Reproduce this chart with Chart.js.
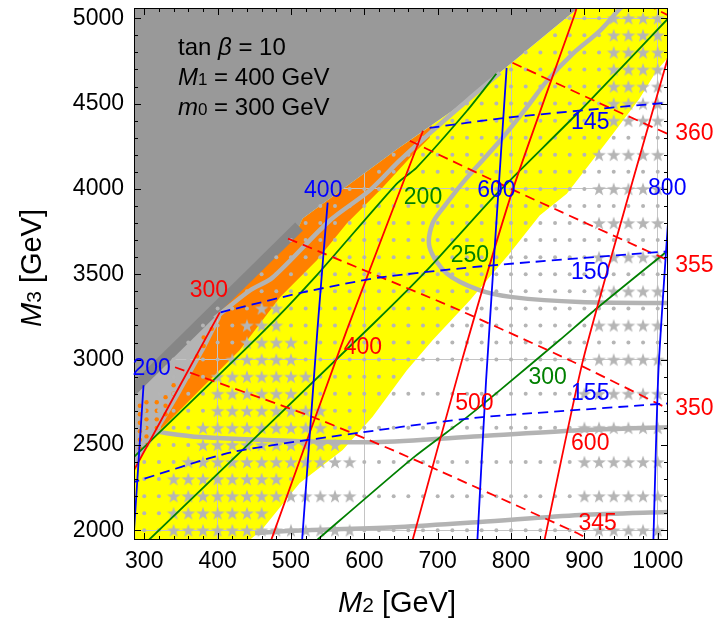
<!DOCTYPE html>
<html>
<head>
<meta charset="utf-8">
<script src="https://cdn.jsdelivr.net/npm/chart.js@4.4.1/dist/chart.umd.min.js"></script>
<style>
  html, body { margin: 0; padding: 0; background: #fff; }
  #wrap { width: 720px; height: 619px; }
</style>
</head>
<body>
<div id="wrap"><canvas id="scan"></canvas></div>
<script>
// axis ticks
const m2Ticks = [300, 400, 500, 600, 700, 800, 900, 1000];
const m3Ticks = [2000, 2500, 3000, 3500, 4000, 4500, 5000];

// scan grid (M2, M3 in GeV)
const gridM2 = [300, 320, 340, 360, 380, 400, 420, 440, 460, 480, 500, 520, 540, 560, 580, 600, 620, 640,
  660, 680, 700, 720, 740, 760, 780, 800, 820, 840, 860, 880, 900, 920, 940, 960, 980, 1000];
const gridM3 = [2000, 2100, 2200, 2300, 2400, 2500, 2600, 2700, 2800, 2900, 3000, 3100, 3200, 3300, 3400,
  3500, 3600, 3700, 3800, 3900, 4000, 4100, 4200, 4300, 4400, 4500, 4600, 4700, 4800, 4900, 5000];

// rows of star points: [M3, M2 from, M2 to]
const starRows = [
  [3300, 460, 480], [3200, 440, 480], [3100, 440, 500], [3000, 420, 500], [2900, 400, 520],
  [2800, 400, 500], [2700, 400, 540], [2600, 380, 540], [2500, 380, 560], [2400, 360, 580],
  [2300, 340, 480], [2200, 340, 580], [2100, 340, 460], [2000, 340, 580],
  [2000, 920, 1000], [2200, 900, 1000], [2400, 900, 1000], [2600, 900, 1000], [2800, 900, 1000],
  [3000, 920, 1000], [3200, 920, 1000], [3400, 920, 1000], [3600, 920, 1000], [3800, 920, 1000],
  [4000, 920, 1000], [4200, 920, 1000], [4400, 940, 1000], [4500, 940, 1000], [4600, 940, 1000],
  [4700, 940, 1000], [4800, 940, 1000], [4900, 940, 1000], [5000, 940, 1000]
];

const orangeDots = [[294, 2480], [294, 2530], [294, 2580], [294, 2630], [294, 2680], [294, 2730],
  [303, 2500], [303, 2550], [303, 2600], [303, 2650], [303, 2700], [303, 2750],
  [317, 2600], [317, 2650], [317, 2700], [317, 2750], [329, 2680], [329, 2730], [329, 2780],
  [340, 2800], [340, 2850], [372, 3020], [381, 3080], [381, 3130], [392, 3180]];

// regions
const excludedRegion = [[280, 5090], [900, 5090], [784.5, 4680], [720, 4458], [648, 4242], [516, 3826], [511, 3780], [280, 2803]];
const darkBand = [[280, 2803], [511, 3780]];
const orangeRegion = [[280, 2803], [511, 3780], [516, 3826], [648, 4242], [692, 4372],
  [689, 4300], [671, 4224], [625, 4008], [576, 3798], [535, 3581], [485, 3365], [430, 3055],
  [375.5, 2821], [335, 2645], [294, 2470], [280, 2420]];
const grayPatch = [[280, 2803], [411, 3355], [404, 3240], [382, 3054], [348, 2791], [328, 2645], [307, 2499], [280, 2330]];
const yellowRegion = [[280, 1930], [440, 1930], [460, 2002], [512, 2277], [570.5, 2470], [611, 2663],
  [658, 2937], [693, 3113], [744, 3347], [798, 3622], [839, 3844], [876, 3972], [939, 4323],
  [975, 4528], [998.5, 4692], [1020, 4800], [1020, 5090], [900, 5090], [784.5, 4680], [720, 4458],
  [648, 4242], [516, 3826], [280, 2803]];

// thick gray contours
const grayLines = [
  [[396, 3242], [444, 3405], [475, 3481], [553, 3815], [607, 3990], [648, 4166], [693, 4341], [740, 4517], [785, 4680]],
  [[955, 5080], [948, 5054], [921, 4926], [884, 4791], [849, 4633], [821, 4475], [785, 4282], [740, 4066], [710, 3903],
    [693, 3798], [689, 3658], [712, 3506], [757, 3407], [802, 3366], [894, 3337], [1020, 3331]],
  [[310, 2581], [376, 2546], [512, 2522], [613, 2516], [757, 2551], [894, 2586], [1020, 2605]],
  [[451, 1984], [512, 1998], [648, 2019], [757, 2048], [894, 2089], [1020, 2108]]
];

// blue solid / dashed
const blueSolid = [
  [[285, 1930], [299, 2850]],
  [[515, 1930], [536, 3171], [550, 3920]],
  [[754, 1930], [766, 2879], [782, 3932], [794, 4709]],
  [[994, 1930], [1001, 2938], [1016, 3930]]
];
const blueDashed = [
  [[689, 4358], [794, 4417], [921, 4470], [1020, 4508]],
  [[404, 3277], [516, 3394], [621, 3481], [771, 3551], [1020, 3636]],
  [[280, 2275], [420, 2458], [648, 2604], [761, 2663], [1020, 2745]]
];
// red solid / dashed
const redSolid = [
  [[280, 2305], [403, 3277]],
  [[472, 1930], [576, 3171], [680, 4341]],
  [[665, 1930], [733, 2994], [802, 3990], [887, 5025], [890, 5070]],
  [[845, 1930], [898, 2994], [966, 4049], [1016, 4800]]
];
const redDashed = [
  [[342, 2955], [530, 2663], [648, 2452], [890, 1984], [912, 1930]],
  [[496, 3709], [689, 3364], [730, 3289], [880, 2996], [1020, 2700]],
  [[662, 4282], [808, 3984], [1020, 3570]],
  [[802, 4739], [934, 4476], [1020, 4310]],
  [[985, 5080], [1020, 5005]]
];
// green solid
const greenSolid = [
  [[280, 2405], [457, 3142], [535, 3494], [644, 4030], [671, 4124], [740, 4458], [780, 4675]],
  [[303, 1930], [613, 3213], [689, 3540], [778, 3961], [894, 4458], [1020, 5025]],
  [[532, 1930], [666, 2423], [740, 2663], [785, 2821], [866, 3113], [917, 3301], [1020, 3660]]
];

// contour labels: [text, M2, M3]
const blueLabels = [['200', 310, 2949], ['400', 544, 3990], ['600', 780, 3990], ['800', 1013, 4000],
  ['145', 908, 4388], ['150', 908, 3512], ['155', 908, 2801]];
const redLabels = [['300', 388, 3405], ['400', 598, 3072], ['500', 750, 2743], ['600', 908, 2509],
  ['345', 918, 2041], ['350', 1050, 2713], ['355', 1050, 3553], ['360', 1050, 4324]];
const greenLabels = [['200', 680, 3951], ['250', 744, 3610], ['300', 850, 2897]];

const FONT = "'Liberation Sans', Arial, Helvetica, sans-serif";
Chart.defaults.font.family = FONT;

function inside(pt, poly) {
  let c = false;
  for (let i = 0, j = poly.length - 1; i < poly.length; j = i++) {
    const [xi, yi] = poly[i], [xj, yj] = poly[j];
    if ((yi > pt[1]) !== (yj > pt[1]) && pt[0] < (xj - xi) * (pt[1] - yi) / (yj - yi) + xi) c = !c;
  }
  return c;
}

// build scan points
const starPts = [];
const starKey = new Set();
starRows.forEach(([m3, lo, hi]) => {
  gridM2.forEach(m2 => {
    if (m2 >= lo && m2 <= hi && !inside([m2, m3], excludedRegion)) {
      starPts.push({ x: m2, y: m3 });
      starKey.add(m2 + ':' + m3);
    }
  });
});
const dotPts = [];
gridM3.forEach(m3 => {
  gridM2.forEach(m2 => {
    if (inside([m2, m3], excludedRegion) || starKey.has(m2 + ':' + m3)) return;
    if (!inside([m2, m3], yellowRegion) && m3 < 3000 && m3 % 200 !== 0) return;
    dotPts.push({ x: m2, y: m3 });
  });
});

// filled star marker
const starImg = document.createElement('canvas');
starImg.width = 16; starImg.height = 16;
const sc = starImg.getContext('2d');
sc.beginPath();
for (let k = 0; k < 10; k++) {
  const r = k % 2 ? 2.8 : 7.2;
  const ang = -Math.PI / 2 + k * Math.PI / 5;
  sc.lineTo(8 + r * Math.cos(ang), 8.6 + r * Math.sin(ang));
}
sc.closePath();
sc.fillStyle = '#b5b5b5';
sc.fill();

const asXY = pts => pts.map(p => ({ x: p[0], y: p[1] }));
const curve = (pts, color, width, dash, order, tension) => ({
  data: asXY(pts), showLine: true, borderColor: color, borderWidth: width, borderDash: dash,
  pointRadius: 0, fill: false, tension: tension, order: order, clip: 0
});

const datasets = [];
blueSolid.forEach(l => datasets.push(curve(l, '#0000ff', 1.8, [], 0, 0.2)));
blueDashed.forEach(l => datasets.push(curve(l, '#0000ff', 1.8, [10, 6], 0, 0.2)));
redSolid.forEach(l => datasets.push(curve(l, '#ff0000', 1.8, [], 0, 0.2)));
redDashed.forEach(l => datasets.push(curve(l, '#ff0000', 1.8, [10, 6], 0, 0.2)));
greenSolid.forEach(l => datasets.push(curve(l, '#008000', 1.8, [], 0, 0.2)));
grayLines.forEach(l => datasets.push(curve(l, '#b3b3b3', 4.5, [], 1, 0.3)));
datasets.push({ data: starPts, pointStyle: starImg, pointRadius: 7, order: 2 });
datasets.push({ data: dotPts, pointRadius: 2, pointBackgroundColor: '#b5b5b5', pointBorderWidth: 0, order: 3 });
datasets.push({ data: asXY(orangeDots), pointRadius: 2.2, pointBackgroundColor: '#ff8000', pointBorderWidth: 0, order: 3 });

function toPx(chart, p) {
  return [chart.scales.x.getPixelForValue(p[0]), chart.scales.y.getPixelForValue(p[1])];
}
function fillPoly(chart, pts, color) {
  const ctx = chart.ctx;
  ctx.beginPath();
  pts.forEach((p, i) => { const [x, y] = toPx(chart, p); i ? ctx.lineTo(x, y) : ctx.moveTo(x, y); });
  ctx.closePath();
  ctx.fillStyle = color;
  ctx.fill();
}
function clipArea(chart) {
  const a = chart.chartArea;
  chart.ctx.beginPath();
  chart.ctx.rect(a.left, a.top, a.right - a.left, a.bottom - a.top);
  chart.ctx.clip();
}
function drawRuns(ctx, runs, x, y, center) {
  let total = 0;
  runs.forEach(r => { ctx.font = r[1]; total += ctx.measureText(r[0]).width; });
  let cx = center ? x - total / 2 : x;
  runs.forEach(r => { ctx.font = r[1]; ctx.fillText(r[0], cx, y); cx += ctx.measureText(r[0]).width; });
}

const scanPlugin = {
  id: 'scanPlugin',
  beforeDraw(chart) {
    const ctx = chart.ctx;
    ctx.save();
    ctx.fillStyle = '#fff';
    ctx.fillRect(0, 0, chart.width, chart.height);
    clipArea(chart);
    fillPoly(chart, yellowRegion, '#ffff00');
    fillPoly(chart, orangeRegion, '#ff8000');
    fillPoly(chart, grayPatch, '#b4b4b4');
    ctx.restore();
  },
  beforeDatasetsDraw(chart) {
    const ctx = chart.ctx;
    ctx.save();
    clipArea(chart);
    fillPoly(chart, excludedRegion, '#999999');
    ctx.beginPath();
    darkBand.forEach((p, i) => { const [x, y] = toPx(chart, p); i ? ctx.lineTo(x, y) : ctx.moveTo(x, y); });
    ctx.strokeStyle = '#868686';
    ctx.lineWidth = 11;
    ctx.stroke();
    ctx.restore();
  },
  afterDraw(chart) {
    const ctx = chart.ctx, a = chart.chartArea, xs = chart.scales.x, ys = chart.scales.y;
    ctx.save();
    // inward ticks
    ctx.strokeStyle = '#000';
    ctx.lineWidth = 1;
    ctx.beginPath();
    for (let v = 300; v <= 1000; v += 20) {
      const px = Math.round(xs.getPixelForValue(v)) + 0.5, len = v % 100 === 0 ? 7 : 4;
      ctx.moveTo(px, a.bottom); ctx.lineTo(px, a.bottom - len);
      ctx.moveTo(px, a.top); ctx.lineTo(px, a.top + len);
    }
    for (let v = 2000; v <= 5000; v += 100) {
      const py = Math.round(ys.getPixelForValue(v)) + 0.5, len = v % 500 === 0 ? 7 : 4;
      ctx.moveTo(a.left, py); ctx.lineTo(a.left + len, py);
      ctx.moveTo(a.right, py); ctx.lineTo(a.right - len, py);
    }
    ctx.stroke();
    ctx.strokeRect(a.left + 0.5, a.top + 0.5, a.right - a.left - 1, a.bottom - a.top - 1);

    // contour labels
    ctx.textAlign = 'center';
    ctx.textBaseline = 'middle';
    ctx.font = '23px ' + FONT;
    [[blueLabels, '#0000ff'], [redLabels, '#ff0000'], [greenLabels, '#008000']].forEach(([list, color]) => {
      ctx.fillStyle = color;
      list.forEach(([t, m2, m3]) => { const [x, y] = toPx(chart, [m2, m3]); ctx.fillText(t, x, y); });
    });

    // parameter box
    ctx.textAlign = 'left';
    ctx.textBaseline = 'alphabetic';
    ctx.fillStyle = '#000';
    drawRuns(ctx, [['tan ', '24px ' + FONT], ['\u03b2', 'italic 24px ' + FONT], [' = 10', '24px ' + FONT]], 178, 55);
    drawRuns(ctx, [['M', 'italic 24px ' + FONT], ['1', '17px ' + FONT], [' = 400 GeV', '24px ' + FONT]], 178, 85);
    drawRuns(ctx, [['m', 'italic 24px ' + FONT], ['0', '17px ' + FONT], [' = 300 GeV', '24px ' + FONT]], 178, 115);

    // axis titles
    drawRuns(ctx, [['M', 'italic 29px ' + FONT], ['2', '21px ' + FONT], [' [GeV]', '29px ' + FONT]], 397, 612, true);
    ctx.translate(41, 268);
    ctx.rotate(-Math.PI / 2);
    drawRuns(ctx, [['M', 'italic 29px ' + FONT], ['3', '21px ' + FONT], [' [GeV]', '29px ' + FONT]], 0, 0, true);
    ctx.restore();
  }
};

new Chart(document.getElementById('scan'), {
  type: 'scatter',
  data: { datasets: datasets },
  options: {
    responsive: true,
    maintainAspectRatio: false,
    animation: false,
    events: [],
    layout: { padding: { left: 0, right: 52, top: 7, bottom: 0 } },
    plugins: { legend: { display: false }, tooltip: { enabled: false } },
    scales: {
      x: {
        type: 'linear', min: 286, max: 1014,
        afterBuildTicks: s => { s.ticks = m2Ticks.map(v => ({ value: v })); },
        afterFit: s => { s.height = 79; s.paddingLeft = 0; s.paddingRight = 0; },
        ticks: { color: '#000', font: { size: 23 }, padding: 8, maxRotation: 0, autoSkip: false, callback: v => String(v) },
        grid: { color: c => (c.tick && c.tick.value % 200 === 0) ? '#c4c4c4' : 'rgba(0,0,0,0)', drawTicks: false, lineWidth: 1 },
        border: { display: false }
      },
      y: {
        type: 'linear', min: 1943, max: 5060,
        afterBuildTicks: s => { s.ticks = m3Ticks.map(v => ({ value: v })); },
        afterFit: s => { s.width = 134; s.paddingTop = 0; s.paddingBottom = 0; },
        ticks: { color: '#000', font: { size: 23 }, padding: 10, autoSkip: false, callback: v => String(v) },
        grid: { color: c => (c.tick && c.tick.value % 1000 === 0) ? '#c4c4c4' : 'rgba(0,0,0,0)', drawTicks: false, lineWidth: 1 },
        border: { display: false }
      }
    }
  },
  plugins: [scanPlugin]
});
</script>
</body>
</html>
